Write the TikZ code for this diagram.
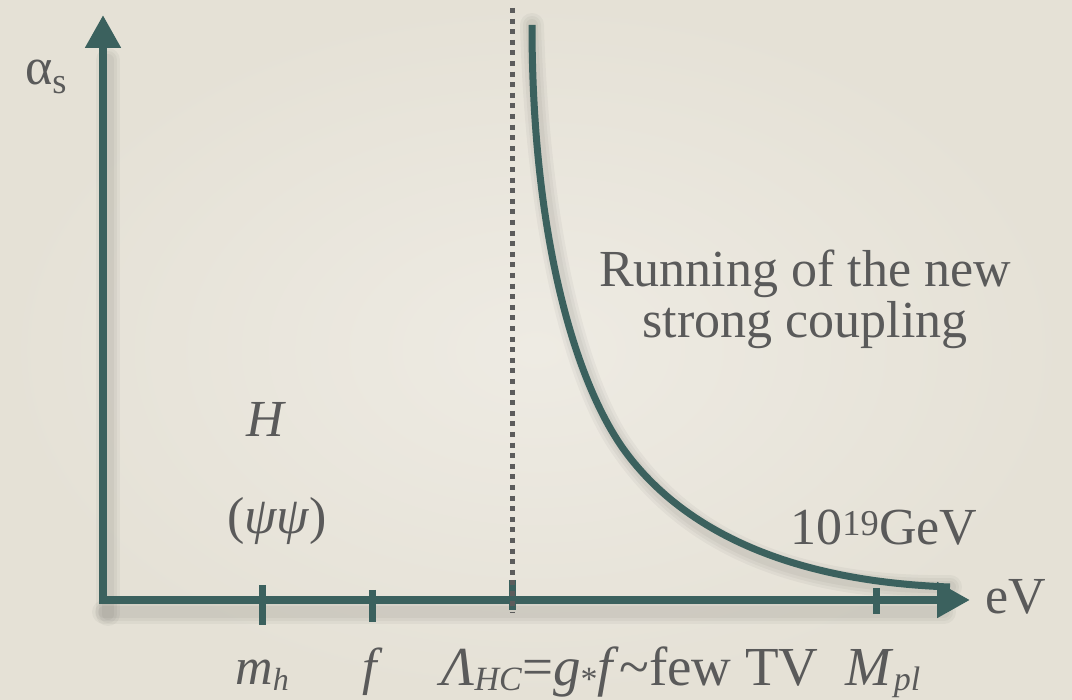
\documentclass[tikz,border=0pt]{standalone}
\usepackage{fontspec}
\setmainfont{Liberation Serif}
\usetikzlibrary{arrows.meta}
\definecolor{axisteal}{HTML}{3B615E}
\definecolor{labelgray}{HTML}{5A5A5A}
\definecolor{dotgray}{HTML}{5C5C5C}
\definecolor{bgin}{HTML}{EEEBE3}
\definecolor{bgout}{HTML}{E5E1D6}
\newcommand\lowsub[1]{\raisebox{-6pt}{\fontsize{32}{32}\selectfont #1}}
\newcommand\lowsubb[1]{\raisebox{-5pt}{\fontsize{34}{34}\selectfont #1}}
\begin{document}
\begin{tikzpicture}[x=1pt,y=-1pt,
  axisline/.style={draw=axisteal,line width=8pt},
  axisarrow/.style={-{Triangle[length=33pt,width=34pt]}},
  ticksty/.style={draw=axisteal,line width=7pt},
  shadowsty/.style={draw=black,opacity=0.035,line cap=round},
  lab/.style={text=labelgray,font=\fontsize{52}{51}\selectfont,inner sep=0pt},
  labbig/.style={text=labelgray,font=\fontsize{55}{55}\selectfont,inner sep=0pt},
  dotline/.style={draw=dotgray,line width=5pt,dash pattern=on 5pt off 5.6pt}]
  \shade[inner color=bgin,outer color=bgout] (0,0) rectangle (1072,700);
  \useasboundingbox (0,0) rectangle (1072,700);
  % coordinates
  \coordinate (O) at (100,600);
  \coordinate (Oy) at (103,604);
  \coordinate (ytip) at (103,15);
  \coordinate (xtip) at (970,600);
  \coordinate (tmh) at (262,600);
  \coordinate (tf) at (372,600);
  \coordinate (tL) at (512,600);
  \coordinate (tM) at (876,600);
  \coordinate (dtop) at (512,8);
  \coordinate (dbot) at (512,612);
  \coordinate (cs) at (532,25);
  \coordinate (cm) at (622,447);
  \coordinate (ce) at (950,587);
  % soft shadows
  \foreach \w in {24,18,12}{
    \draw[shadowsty,line width=\w pt] ([shift={(5,10)}]Oy) -- ([shift={(5,10)}]103,50);
    \draw[shadowsty,line width=\w pt] ([shift={(4,12)}]O) -- ([shift={(4,12)}]940,600);
    \draw[shadowsty,line width=\w pt,shift={(6,10)}] (cs) .. controls (532,225) and (571,373) .. (cm)
      .. controls (662,504) and (750,580) .. (ce);
  }
  % dotted line
  \draw[dotline] (dtop) -- (dbot);
  % axes
  \draw[axisline,axisarrow] (Oy) -- (ytip);
  \draw[axisline,axisarrow] (O) -- (xtip);
  % ticks
  \draw[ticksty] ([yshift=15pt]tmh) -- ([yshift=-25pt]tmh);
  \draw[ticksty] ([yshift=10pt]tf) -- ([yshift=-22pt]tf);
  \draw[ticksty] ([yshift=20pt]tL) -- ([yshift=-10pt]tL);
  \draw[ticksty] ([yshift=12pt]tM) -- ([yshift=-14pt]tM);
  \draw[dotline] ([yshift=20pt]tL) -- (dbot);
  % running curve
  \draw[axisteal,line width=7pt] (cs) .. controls (532,225) and (571,373) .. (cm)
    .. controls (662,504) and (750,580) .. (ce);
  % labels
  \node[lab,anchor=base west] (alpha) at (25,85) {α\textsubscript{s}};
  \node[lab,anchor=base] (H) at (265,437) {\itshape H};
  \node[lab,anchor=base] (psi) at (277,534) {(\textit{ψψ})};
  \node[lab,anchor=base] (mh) at (262,684) {\textit{m}\lowsub{\textit{h}}};
  \node[lab,anchor=base] (f) at (373,684) {\textit{f}};
  \node[labbig,anchor=base] (Lam) at (630,685) {\textit{Λ}\lowsubb{\textit{HC}}=\textit{g}\lowsubb{*}\textit{f}\textasciitilde few TV};
  \node[labbig,anchor=base] (Mpl) at (883,685) {\textit{M}\lowsubb{\textit{pl}}};
  \node[lab,anchor=base] (GeV) at (884,545) {10\textsuperscript{19}GeV};
  \node[lab,anchor=base west] (eV) at (985,613) {eV};
  \node[lab,anchor=base,align=center] (run) at (805,338) {Running of the new\\strong coupling};
\end{tikzpicture}
\end{document}
